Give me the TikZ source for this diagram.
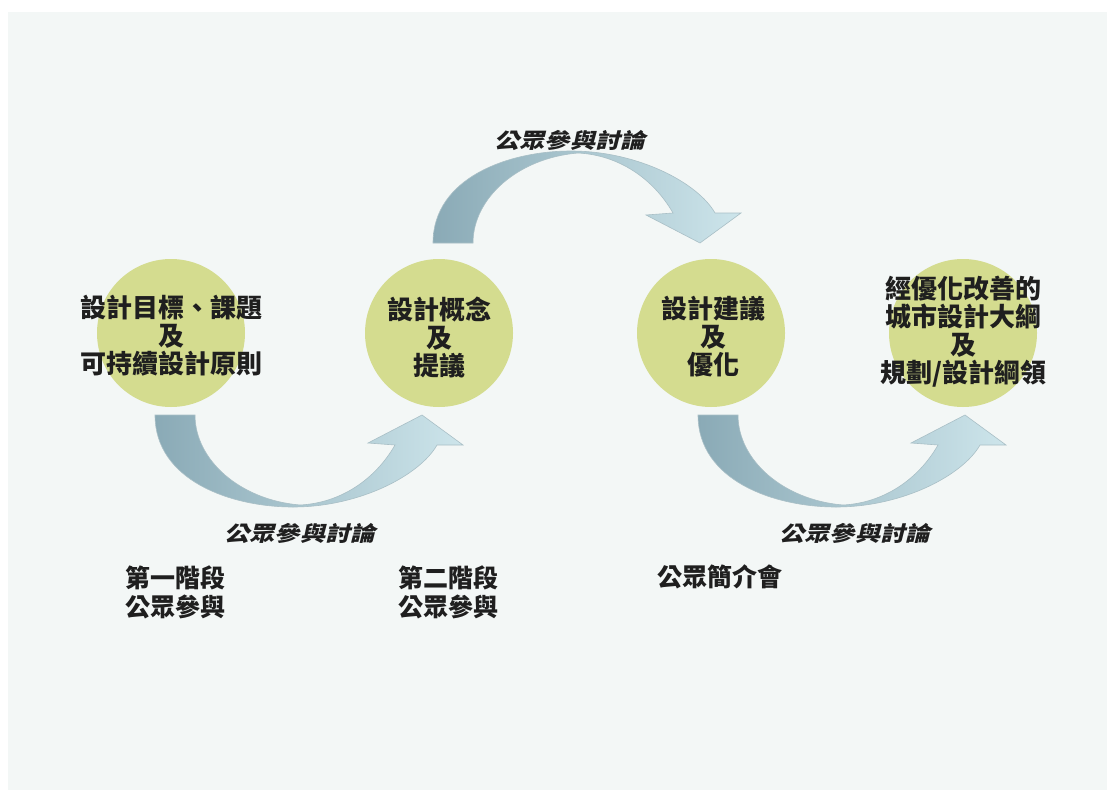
\documentclass[tikz,border=0pt]{standalone}
\usepackage{fontspec}
\newfontfamily\cjk{Noto Sans CJK TC}
\newfontfamily\cjksl[FakeSlant=0.25,FakeStretch=1.2]{Noto Sans CJK TC}
\definecolor{panel}{HTML}{F3F7F6}
\definecolor{leaf}{HTML}{D4DC8F}
\definecolor{flowdark}{HTML}{8AAAB6}
\definecolor{flowlight}{HTML}{CDE5EB}
\definecolor{flowline}{HTML}{A9BFC6}
\definecolor{ink}{HTML}{1F1F1F}
\tikzset{
  stage/.style={circle, fill=leaf, minimum size=148pt, inner sep=0pt},
  stagetext/.style={text=ink, align=center, font=\cjk\bfseries\fontsize{26pt}{28pt}\selectfont},
  talk/.style={text=ink, font=\cjksl\bfseries\fontsize{21pt}{24pt}\selectfont},
  phase/.style={text=ink, align=left, anchor=west, font=\cjk\bfseries\fontsize{25pt}{29pt}\selectfont},
  flow/.style={left color=flowdark, right color=flowlight, draw=flowline, line width=0.6pt}
}
\begin{document}
\begin{tikzpicture}[x=1pt, y=-1pt]

% Parametri
\def\shiftx{543}
% freccia curva (origine = angolo esterno della coda)
\def\flowpath{(0,0) .. controls (0,65) and (75,92) .. (138,92)
  .. controls (205,92) and (265,60) .. (282,30) -- (308,30) -- (267,0)
  -- (213,28) -- (240,30) .. controls (220,65) and (185,88) .. (145,90)
  .. controls (85,85) and (40,45) .. (40,0) -- cycle}

\useasboundingbox (0,0) rectangle (1107,789);
\fill[white] (0,0) rectangle (1107,789);
\fill[panel] (8,12) rectangle (1115,797);

% Cerchi delle fasi
\node[stage] (goals) at (171,333) {};
\node[stage] (concept) at (439,333) {};
\node[stage] (refine) at (711,333) {};
\node[stage] (outline) at (963,333) {};

\node[stagetext] (goalstxt) at ([yshift=-3]goals) {設計目標、課題\\及\\可持續設計原則};
\node[stagetext] (concepttxt) at ([yshift=-4]concept) {設計概念\\及\\提議};
\node[stagetext] (refinetxt) at ([xshift=2,yshift=-4]refine) {設計建議\\及\\優化};
\node[stagetext] (outlinetxt) at ([yshift=1]outline) {經優化改善的\\城市設計大綱\\及\\規劃/設計綱領};

% Frecce
\foreach \sx in {0,\shiftx} {
  \begin{scope}[shift={(155+\sx,415)}]
    \shade[flow] \flowpath;
  \end{scope}
}
\begin{scope}[shift={(433,243)}, yscale=-1]
  \shade[flow] \flowpath;
\end{scope}

% Scritte
\node[talk] (talktop) at (570,140) {公眾參與討論};
\node[talk] (talkleft) at (300,533) {公眾參與討論};
\node[talk] (talkright) at (855,533) {公眾參與討論};

\node[phase] (phaseone) at (122,592) {第一階段\\公眾參與};
\node[phase] (phasetwo) at (395,592) {第二階段\\公眾參與};
\node[phase] (briefing) at (654,577) {公眾簡介會};
\end{tikzpicture}
\end{document}
